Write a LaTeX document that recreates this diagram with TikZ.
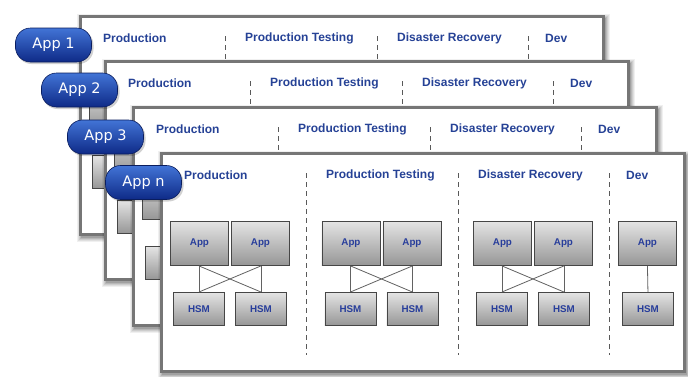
\documentclass[tikz,border=0pt]{standalone}
\usepackage{fontspec}
\setmainfont{Liberation Sans}
\newfontfamily\pillfont{DejaVu Sans}
\usetikzlibrary{calc}
\definecolor{hdrblue}{RGB}{38,66,150}
\definecolor{lblblue}{RGB}{40,62,155}
\definecolor{pilltop}{RGB}{66,116,214}
\definecolor{pillbot}{RGB}{14,42,135}
\definecolor{frame}{RGB}{118,118,118}
\definecolor{boxtop}{RGB}{228,228,228}
\definecolor{boxbot}{RGB}{150,150,150}
\definecolor{boxline}{RGB}{70,70,70}
\tikzset{
  panelbox/.style={draw=frame, line width=2.8pt, fill=white, anchor=north west,
    minimum width=523pt, minimum height=218pt, inner sep=0pt},
  hdr/.style={anchor=west, font=\bfseries\fontsize{12}{14}\selectfont, text=hdrblue, inner sep=0pt},
  appbox/.style={draw=boxline, line width=0.9pt, top color=boxtop, bottom color=boxbot,
    minimum width=58pt, minimum height=44pt, inner sep=0pt, anchor=north west,
    font=\bfseries\fontsize{9.8}{11}\selectfont, text=lblblue},
  hsmbox/.style={appbox, minimum width=51pt, minimum height=33pt},
  link/.style={draw=boxline!85, line width=0.8pt},
  sepline/.style={draw=gray!70!black, line width=0.8pt, dash pattern=on 5pt off 4pt},
  pill/.style={rounded corners=15pt, draw=pillbot!70!black, line width=0.6pt,
    top color=pilltop, bottom color=pillbot, text=white,
    font=\pillfont\fontsize{14.5}{16}\selectfont,
    minimum width=76pt, minimum height=34pt, inner sep=0pt},
}
\begin{document}
\begin{tikzpicture}[x=1pt,y=-1pt]
\fill[white] (0,0) rectangle (688,376);
\useasboundingbox (0,0) rectangle (688,376);
\foreach \i/\ox/\oy/\px/\py/\lab in {1/79/15/53.5/45/App 1, 2/104/60/79.5/90/App 2, 3/132/106/105.5/137/App 3, 4/160/152/143.5/182.5/App n}{
  % shadow
  \foreach \s/\o in {5/0.06,4/0.07,3/0.08,2/0.1,1/0.12}{
    \fill[black, opacity=\o] (\ox-\s+3,\oy-\s+4) rectangle (\ox+523+\s+3,\oy+218+\s+4);
  }
  \node[panelbox] (p\i) at (\ox,\oy) {};
  % headers
  \node[hdr] (hp\i) at (\ox+24,\oy+23) {Production};
  \node[hdr] (ht\i) at (\ox+166,\oy+23) {Production Testing};
  \node[hdr] (hr\i) at (\ox+318,\oy+23) {Disaster Recovery};
  \node[hdr] (hd\i) at (\ox+466,\oy+23) {Dev};
  % separators
  \foreach \sx [count=\k] in {146,298,449}{
    \coordinate (st\i-\k) at (\ox+\sx,\oy+21);
    \coordinate (sb\i-\k) at (\ox+\sx,\oy+203);
    \draw[sepline] (st\i-\k) -- (sb\i-\k);
  }
  % groups with two apps and two HSMs
  \foreach \g [count=\k] in {10,161.5,313}{
    \node[appbox] (a\i-\k-1) at (\ox+\g,\oy+69) {App};
    \node[appbox] (a\i-\k-2) at (\ox+\g+61,\oy+69) {App};
    \node[hsmbox] (h\i-\k-1) at (\ox+\g+3,\oy+140) {HSM};
    \node[hsmbox] (h\i-\k-2) at (\ox+\g+65,\oy+140) {HSM};
    \coordinate (c\i-\k-1) at (h\i-\k-1.north |- a\i-\k-1.south);
    \coordinate (c\i-\k-2) at (h\i-\k-2.north |- a\i-\k-2.south);
    \draw[link] (c\i-\k-1) -- (h\i-\k-1.north);
    \draw[link] (c\i-\k-2) -- (h\i-\k-2.north);
    \draw[link] (c\i-\k-1) -- (h\i-\k-2.north);
    \draw[link] (c\i-\k-2) -- (h\i-\k-1.north);
  }
  % dev group
  \node[appbox] (a\i-4) at (\ox+458,\oy+69) {App};
  \node[hsmbox] (h\i-4) at (\ox+462,\oy+140) {HSM};
  \draw[link] (a\i-4.south) -- (h\i-4.north);
  % pill label
  \fill[black, opacity=0.18, rounded corners=15pt] (\px-37,\py-15) rectangle (\px+40,\py+19);
  \node[pill] (l\i) at (\px,\py) {\lab};
}
\end{tikzpicture}
\end{document}
